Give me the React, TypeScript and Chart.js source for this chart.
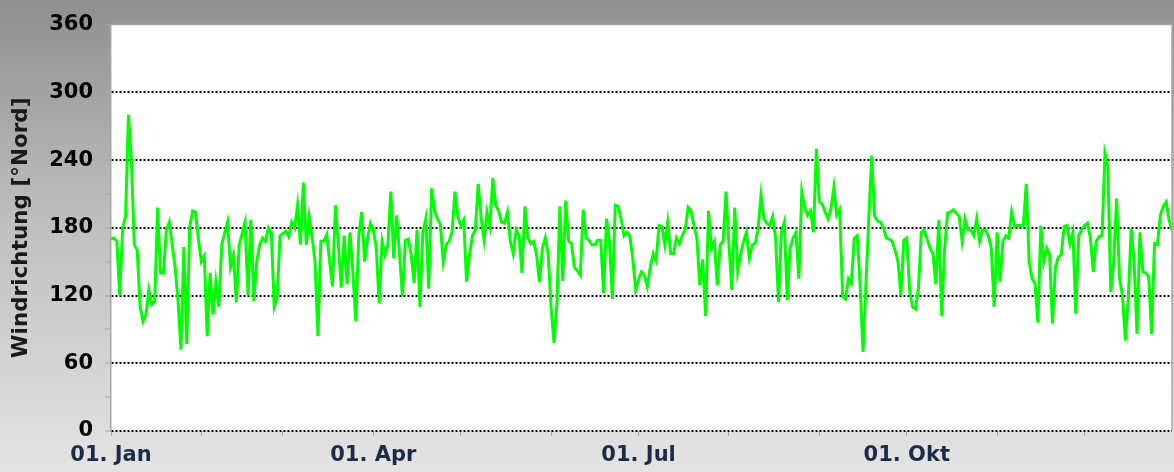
import { useEffect, useRef } from "react";
import { Chart, registerables } from "chart.js";

Chart.register(...registerables);

// Daily wind direction [°Nord], one value per day of the year (day 0 = 01. Jan)
// Days 0-61
const windPart1 = [
  170, 171, 168, 120, 180, 190, 280, 240, 165, 160,
  110, 97, 103, 125, 112, 115, 198, 140, 140, 178,
  185, 165, 145, 115, 72, 163, 77, 180, 195, 194,
  170, 150, 155, 84, 140, 103, 132, 110, 165, 175,
  185, 145, 155, 114, 165, 175, 185, 120, 187, 115,
  150, 165, 171, 168, 180, 176, 110, 118, 173, 175,
  177, 172,
];
// Days 62-119
const windPart2 = [
  185, 180, 200, 165, 220, 165, 190, 172, 150, 84,
  168, 168, 174, 150, 128, 200, 165, 127, 173, 130,
  176, 140, 97, 173, 194, 150, 170, 184, 179, 162,
  113, 168, 156, 165, 212, 153, 191, 156, 119, 169,
  170, 156, 131, 178, 110, 176, 188, 126, 215, 195,
  188, 183, 150, 165, 168, 176, 212, 190,
];
// Days 120-180
const windPart3 = [
  182, 187, 132, 156, 173, 178, 219, 188, 169, 194,
  182, 224, 200, 195, 185, 184, 194, 168, 157, 178,
  173, 140, 199, 171, 166, 168, 156, 132, 162, 171,
  156, 109, 78, 114, 199, 133, 204, 168, 166, 145,
  142, 138, 196, 171, 169, 165, 165, 169, 169, 122,
  188, 168, 117, 200, 199, 188, 173, 176, 173, 153,
  125,
];
// Days 181-243
const windPart4 = [
  134, 141, 138, 128, 145, 157, 151, 182, 181, 165,
  185, 157, 157, 171, 166, 173, 179, 198, 195, 182,
  171, 129, 152, 102, 195, 162, 168, 129, 165, 168,
  212, 165, 125, 198, 141, 156, 168, 176, 153, 165,
  166, 179, 209, 188, 184, 182, 190, 171, 114, 176,
  185, 116, 162, 171, 176, 135, 212, 198, 191, 195,
  176, 250, 203,
];
// Days 244-303
const windPart5 = [
  201, 194, 188, 197, 216, 191, 196, 119, 117, 135,
  131, 171, 173, 130, 70, 130, 190, 244, 190, 186,
  185, 180, 171, 170, 168, 160, 150, 120, 169, 171,
  124, 110, 108, 126, 176, 178, 170, 162, 157, 130,
  187, 102, 162, 193, 194, 196, 193, 190, 168, 188,
  178, 178, 173, 188, 168, 178, 178, 173, 162, 110,
];
// Days 304-364
const windPart6 = [
  176, 132, 168, 173, 171, 194, 181, 182, 182, 182,
  219, 150, 135, 131, 96, 182, 150, 162, 156, 95,
  145, 154, 156, 181, 182, 166, 176, 104, 173, 178,
  182, 184, 171, 141, 168, 172, 173, 246, 235, 123,
  150, 206, 135, 120, 80, 117, 179, 150, 86, 176,
  141, 140, 137, 86, 166, 165, 191, 199, 203, 187,
  178,
];

const monthStartDays = [0, 31, 59, 90, 120, 151, 181, 212, 243, 273, 304, 334];
const monthLabels = ["01. Jan", "", "", "01. Apr", "", "", "01. Jul", "", "", "01. Okt", "", ""];
const yTickValues = [0, 30, 60, 90, 120, 150, 180, 210, 240, 270, 300, 330, 360];
const yAxisTitle = "Windrichtung [°Nord]";

const windValues = [
  ...windPart1,
  ...windPart2,
  ...windPart3,
  ...windPart4,
  ...windPart5,
  ...windPart6,
];

const FONT = "'DejaVu Sans', Verdana, sans-serif";

const plotFrame = {
  id: "plotFrame",
  beforeDraw(chart: any) {
    const { ctx, chartArea } = chart;
    const { left, top, right, bottom } = chartArea;
    ctx.save();
    ctx.fillStyle = "#ffffff";
    ctx.fillRect(left, top, right - left, bottom - top);
    ctx.restore();
  },
  afterDraw(chart: any) {
    const { ctx, chartArea } = chart;
    const { left, top, right, bottom } = chartArea;
    ctx.save();
    ctx.strokeStyle = "#a8a8a8";
    ctx.lineWidth = 1.5;
    ctx.beginPath();
    ctx.moveTo(left, top);
    ctx.lineTo(right, top);
    ctx.lineTo(right, bottom);
    ctx.stroke();
    ctx.restore();
  },
};

export default function App() {
  const canvasRef = useRef<HTMLCanvasElement | null>(null);

  useEffect(() => {
    document.body.style.margin = "0";
    const canvas = canvasRef.current;
    if (!canvas) return;
    const points = windValues.map((v, i) => ({ x: i, y: v }));
    const chart = new Chart(canvas, {
      type: "line",
      data: {
        datasets: [
          {
            data: points,
            borderColor: "#00ff00",
            borderWidth: 3,
            pointRadius: 0,
            tension: 0,
            fill: false,
          },
        ],
      },
      options: {
        animation: false,
        responsive: false,
        devicePixelRatio: 1,
        layout: { padding: { top: 21, right: 2, left: 0, bottom: 0 } },
        plugins: {
          legend: { display: false },
          tooltip: { enabled: false },
        },
        scales: {
          x: {
            type: "linear",
            min: 0,
            max: windValues.length - 1,
            afterBuildTicks: (s: any) => {
              s.ticks = monthStartDays.map((v) => ({ value: v }));
            },
            afterFit: (s: any) => {
              s.height = 41;
            },
            ticks: {
              autoSkip: false,
              maxRotation: 0,
              padding: 7,
              color: "#1c2b48",
              font: { family: FONT, weight: "bold", size: 21 },
              callback: (v: any) => {
                const i = monthStartDays.indexOf(Number(v));
                return i >= 0 ? monthLabels[i] : "";
              },
            },
            grid: {
              drawOnChartArea: false,
              drawTicks: true,
              tickLength: 5,
              tickColor: "#a8a8a8",
              tickWidth: 1,
            },
            border: { display: false },
          },
          y: {
            min: 0,
            max: 360,
            afterBuildTicks: (s: any) => {
              s.ticks = yTickValues.map((v) => ({ value: v }));
            },
            afterFit: (s: any) => {
              s.width = 111;
            },
            ticks: {
              autoSkip: false,
              padding: 12,
              color: "#000000",
              font: { family: FONT, weight: "bold", size: 21 },
              callback: (v: any) => (Number(v) % 60 === 0 ? String(v) : ""),
            },
            grid: {
              color: (c: any) =>
                c.tick && c.tick.value % 60 === 0 && c.tick.value !== 360
                  ? "#000000"
                  : "rgba(0,0,0,0)",
              lineWidth: 2,
              tickColor: "#a8a8a8",
              tickLength: 6,
              tickWidth: 1,
            },
            border: { display: true, color: "#a8a8a8", width: 1.5, dash: [2, 2] },
            title: {
              display: true,
              text: yAxisTitle,
              color: "#1a1a1a",
              font: { family: FONT, weight: "bold", size: 21.5 },
              padding: { top: 9, bottom: 0 },
            },
          },
        },
      },
      plugins: [plotFrame],
    });
    return () => chart.destroy();
  }, []);

  return (
    <div
      style={{
        width: 1174,
        height: 472,
        background: "linear-gradient(to bottom, #8f8f8f 0%, #bdbdbd 45%, #e4e4e4 100%)",
      }}
    >
      <canvas ref={canvasRef} width={1174} height={472} style={{ display: "block" }} />
    </div>
  );
}
